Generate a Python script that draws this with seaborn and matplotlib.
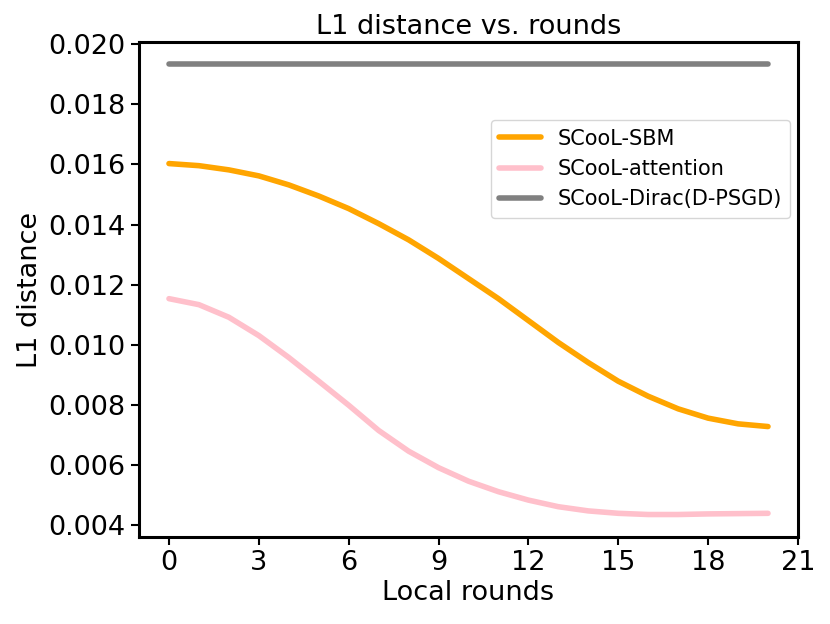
import numpy as np
import pandas as pd
import matplotlib
matplotlib.use("Agg")
import matplotlib.pyplot as plt
from matplotlib.ticker import MultipleLocator
import seaborn as sns

rounds = list(range(21))
sbm = [0.01603, 0.01596, 0.01582, 0.01562, 0.01532, 0.01495, 0.01453, 0.01403,
       0.01349, 0.01287, 0.01220, 0.01153, 0.01080, 0.01007, 0.00940, 0.00878,
       0.00828, 0.00786, 0.00755, 0.00736, 0.00727]
attention = [0.01153, 0.01133, 0.01091, 0.01030, 0.00957, 0.00878, 0.00798, 0.00714,
             0.00645, 0.00590, 0.00545, 0.00510, 0.00482, 0.00460, 0.00446, 0.00438,
             0.00434, 0.00434, 0.00436, 0.00437, 0.00438]
dirac = [0.01933] * 21
series_names = ["SCooL-SBM", "SCooL-attention", "SCooL-Dirac(D-PSGD)"]
colors = ["orange", "pink", "gray"]

df = pd.concat([
    pd.DataFrame({"round": rounds, "value": vals, "method": name})
    for name, vals in zip(series_names, [sbm, attention, dirac])
])

sns.set_style("ticks")
plt.rcParams["font.family"] = ["DejaVu Sans"]
plt.rcParams["text.color"] = "black"
plt.rcParams["axes.labelcolor"] = "black"
plt.rcParams["xtick.color"] = "black"
plt.rcParams["ytick.color"] = "black"

fig = plt.figure(figsize=(8.3, 6.24), dpi=100)
ax = fig.add_axes([0.1675, 0.1394, 0.7939, 0.7933])
sns.lineplot(data=df, x="round", y="value", hue="method", hue_order=series_names,
             palette=colors, linewidth=4, ax=ax)

fs = 19.5
ax.set_xticks(range(0, 22, 3))
ax.set_xlim(-1, 21)
ax.yaxis.set_major_locator(MultipleLocator(0.002))
ax.set_title("L1 distance vs. rounds", fontsize=fs, color="black")
ax.set_xlabel("Local rounds", fontsize=fs, color="black", labelpad=3)
ax.set_ylabel("L1 distance", fontsize=fs, color="black", labelpad=4)
ax.tick_params(labelsize=fs, width=1.5, length=6, color="black", labelcolor="black")
for s in ax.spines.values():
    s.set_linewidth(2.2)
    s.set_color("black")
ax.grid(False)

leg = ax.legend(loc="upper right", bbox_to_anchor=(0.988, 0.842), borderaxespad=0,
                fontsize=15, frameon=True)
for t in leg.get_texts():
    t.set_color("black")
for line in leg.get_lines():
    line.set_linewidth(4)

fig.savefig("out.png", dpi=100)
